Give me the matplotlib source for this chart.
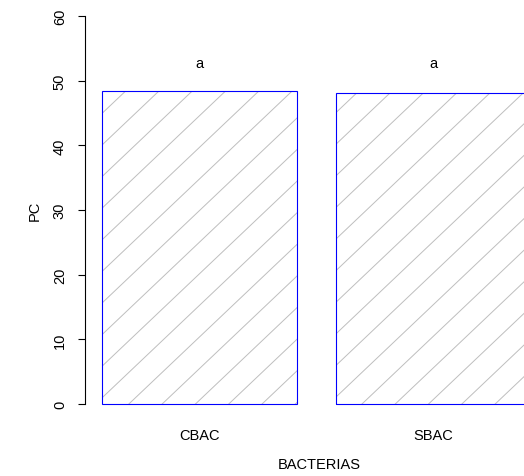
import numpy as np
import matplotlib
matplotlib.use("Agg")
import matplotlib.pyplot as plt

# Data
categories = ["CBAC", "SBAC"]
values = [48.33, 48.07]
letters = ["a", "a"]
yticks = [0, 10, 20, 30, 40, 50, 60]
xlabel = "BACTERIAS"
ylabel = "PC"

plt.rcParams['font.family'] = ['Liberation Sans', 'DejaVu Sans']
FS = 10.5

fig = plt.figure(figsize=(5.24, 4.77), dpi=100)
ax = fig.add_axes([85 / 524, 56.5 / 477, 463 / 524, 419 / 477])

width = 1.0
space = 0.2
xs = [space + width / 2 + i * (width + space) for i in range(len(values))]
bars = ax.bar(xs, values, width=width, facecolor='none', edgecolor='blue',
              linewidth=0.8, zorder=3)

ax.set_xlim(0.112, 2.488)
ax.set_ylim(-2.4, 62.4)

# R-style shading lines clipped to each bar
slope_data = 28.6      # dy/dx in data units
dx = 0.1709            # horizontal spacing in data units
x_ref, y_ref = 0.318, 48.33
for b in bars:
    x0, x1 = b.get_x(), b.get_x() + b.get_width()
    h = b.get_height()
    ylo, yhi = 0.0, h
    kmin = int(np.floor((x0 - x_ref - (yhi - y_ref) / slope_data) / dx)) - 1
    kmax = int(np.ceil((x1 - x_ref - (ylo - y_ref) / slope_data) / dx)) + 1
    for k in range(kmin, kmax + 1):
        xa = x_ref + k * dx + (ylo - y_ref) / slope_data
        xb = x_ref + k * dx + (yhi - y_ref) / slope_data
        ln, = ax.plot([xa, xb], [ylo, yhi], color='#BEBEBE', linewidth=0.7, zorder=2)
        ln.set_clip_path(b)

for x, v, lt in zip(xs, values, letters):
    ax.text(x, 52.7, lt, ha='center', va='center', fontsize=FS)

for s in ['top', 'right', 'bottom']:
    ax.spines[s].set_visible(False)
ax.spines['left'].set_bounds(0, 60)
ax.spines['left'].set_linewidth(0.8)

ax.set_yticks(yticks)
ax.set_yticklabels([str(t) for t in yticks], rotation=90, va='center')
ax.tick_params(axis='y', length=5, width=0.8, labelsize=FS, pad=8)
ax.set_xticks(xs)
ax.set_xticklabels(categories)
ax.tick_params(axis='x', length=0, labelsize=FS, pad=6)

ax.set_xlabel(xlabel, fontsize=FS)
ax.xaxis.set_label_coords(0.505, -0.106)
ax.xaxis.label.set_va('center')
ax.set_ylabel(ylabel, fontsize=FS)
ax.yaxis.set_label_coords(-0.108, 0.5)
ax.yaxis.label.set_va('center')

fig.savefig("out.png", dpi=100)
